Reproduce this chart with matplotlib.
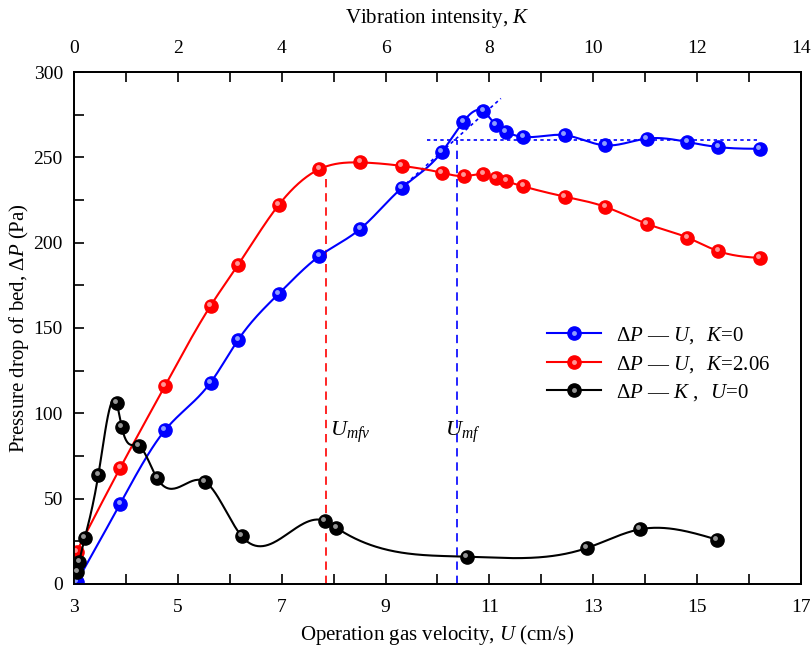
import numpy as np
import matplotlib
matplotlib.use("Agg")
import matplotlib.pyplot as plt
import matplotlib.transforms as mtransforms
from matplotlib.lines import Line2D
from matplotlib.legend_handler import HandlerTuple
from matplotlib.ticker import MultipleLocator, FixedLocator

plt.rcParams['font.family'] = ['Liberation Serif', 'Noto Sans CJK SC']
plt.rcParams['mathtext.fontset'] = 'custom'
plt.rcParams['mathtext.rm'] = 'Liberation Serif'
plt.rcParams['mathtext.it'] = 'Liberation Serif:italic'

# Pressure drop vs gas velocity, no vibration (K=0)
u_k0 = [3.05, 3.89, 4.75, 5.63, 6.16, 6.94, 7.72, 8.51, 9.31, 10.08, 10.50,
        10.88, 11.12, 11.31, 11.65, 12.45, 13.23, 14.03, 14.81, 15.41, 16.21]
p_k0 = [1, 47, 90, 118, 143, 170, 192, 208, 232, 253, 271,
        277, 269, 265, 262, 263, 257, 261, 259, 256, 255]

# Pressure drop vs gas velocity, K=2.06
u_k206 = [3.05, 3.89, 4.75, 5.63, 6.16, 6.94, 7.72, 8.51, 9.31, 10.08, 10.52,
          10.88, 11.12, 11.32, 11.65, 12.45, 13.23, 14.03, 14.81, 15.41, 16.21]
p_k206 = [19, 68, 116, 163, 187, 222, 243, 247, 245, 241, 239,
          240, 238, 236, 233, 227, 221, 211, 203, 195, 191]

# Pressure drop vs vibration intensity, U=0
k_u0 = [0.06, 0.10, 0.21, 0.47, 0.82, 0.92, 1.25, 1.60, 2.52, 3.23,
        4.83, 5.05, 7.56, 9.87, 10.89, 12.38]
p_u0 = [7, 13, 27, 64, 106, 92, 81, 62, 60, 28,
        37, 33, 16, 21, 32, 26]

# characteristic velocities
u_mfv, p_mfv = 7.85, 240
u_mf, p_mf = 10.37, 260
tangent_u = [9.3, 11.22]
tangent_p = [232, 284.5]
plateau_u = [9.8, 16.18]

u_ticks = [3, 5, 7, 9, 11, 13, 15, 17]


def natural_spline(x, y, n=500):
    x = np.asarray(x, float)
    y = np.asarray(y, float)
    m = len(x)
    h = np.diff(x)
    A = np.zeros((m, m))
    b = np.zeros(m)
    A[0, 0] = A[-1, -1] = 1
    for i in range(1, m - 1):
        A[i, i - 1] = h[i - 1]
        A[i, i] = 2 * (h[i - 1] + h[i])
        A[i, i + 1] = h[i]
        b[i] = 6 * ((y[i + 1] - y[i]) / h[i] - (y[i] - y[i - 1]) / h[i - 1])
    M = np.linalg.solve(A, b)
    xs = np.linspace(x[0], x[-1], n)
    idx = np.clip(np.searchsorted(x, xs) - 1, 0, m - 2)
    x0, x1 = x[idx], x[idx + 1]
    hh = x1 - x0
    t0, t1 = x1 - xs, xs - x0
    ys = (M[idx] * t0 ** 3 + M[idx + 1] * t1 ** 3) / (6 * hh) \
        + (y[idx] / hh - M[idx] * hh / 6) * t0 \
        + (y[idx + 1] / hh - M[idx + 1] * hh / 6) * t1
    return xs, ys


fig = plt.figure(figsize=(8.11, 6.47), dpi=100)
ax = fig.add_axes([0.0912, 0.0974, 0.8965, 0.7913])
ax2 = ax.twiny()


def ball_series(axis, x, y, color, shine):
    xs, ys = natural_spline(x, y)
    axis.plot(xs, ys, color=color, lw=1.5, zorder=3)
    axis.plot(x, y, 'o', color=color, ms=9.5, mec=color, zorder=4)
    hl = mtransforms.offset_copy(axis.transData, fig=fig, x=-1.5, y=2, units='dots')
    axis.plot(x, y, 'o', color=shine, ms=3.5, mew=0, alpha=0.85,
              transform=hl, zorder=5)
    handle = (Line2D([], [], color=color, lw=1.5, marker='o', ms=9.5, mec=color),
              Line2D([], [], ls='none', marker='o', color=shine, ms=3.5, mew=0, alpha=0.85))
    return handle


h_blue = ball_series(ax, u_k0, p_k0, '#0000ff', '#a8b8ff')
h_red = ball_series(ax, u_k206, p_k206, '#ff0000', '#ffb0b0')
h_black = ball_series(ax2, k_u0, p_u0, '#000000', '#b0b0b0')

# guide lines
ax.plot([u_mfv, u_mfv], [0, p_mfv], color='#ff0000', lw=1.2, ls=(0, (5, 3.5)), zorder=2)
ax.plot([u_mf, u_mf], [0, p_mf], color='#0000ff', lw=1.2, ls=(0, (5, 3.5)), zorder=2)
ax.plot(plateau_u, [p_mf, p_mf], color='#0000ff', lw=1.2, ls=(0, (2, 2)), zorder=2)
ax.plot(tangent_u, tangent_p, color='#0000ff', lw=1.2, ls=(0, (2, 2)), zorder=2)

ax.text(7.93, 89, r'$U_{mfv}$', fontsize=16, ha='left', va='center')
ax.text(10.14, 89, r'$U_{mf}$', fontsize=16, ha='left', va='center')

ax.set_xlim(3, 17)
ax.set_ylim(0, 300)
ax2.set_xlim(0, 14)

ax.xaxis.set_major_locator(FixedLocator(u_ticks))
ax.xaxis.set_minor_locator(MultipleLocator(1))
ax.yaxis.set_major_locator(MultipleLocator(50))
ax.yaxis.set_minor_locator(MultipleLocator(25))
ax2.xaxis.set_major_locator(MultipleLocator(2))
ax2.xaxis.set_minor_locator(MultipleLocator(1))

for a in (ax, ax2):
    a.tick_params(which='both', direction='in', length=7, width=1.2, labelsize=14)
    for s in a.spines.values():
        s.set_linewidth(1.3)
ax.tick_params(axis='x', which='both', pad=11)
ax.tick_params(axis='y', which='both', pad=8)
ax2.tick_params(axis='x', which='both', pad=11)

ax.set_xlabel(r'Operation gas velocity, $\mathit{U}$ (cm/s)', fontsize=15, labelpad=5)
ax.set_ylabel(r'Pressure drop of bed, $\Delta\mathit{P}$ (Pa)', fontsize=15, labelpad=2)
ax2.set_xlabel(r'Vibration intensity, $\mathit{K}$', fontsize=15, labelpad=12)

labels = [r'$\mathit{\Delta P}$ — $\mathit{U},\ \ \mathit{K}$=0',
          r'$\mathit{\Delta P}$ — $\mathit{U},\ \ \mathit{K}$=2.06',
          r'$\mathit{\Delta P}$ — $\mathit{K}\ ,\ \ \mathit{U}$=0']
ax2.legend([h_blue, h_red, h_black], labels, loc='upper left',
           bbox_to_anchor=(0.625, 0.542), frameon=False, fontsize=15,
           handlelength=2.6, handletextpad=0.7, labelspacing=0.36,
           handler_map={tuple: HandlerTuple(ndivide=1, pad=0)})

fig.savefig('out.png', dpi=100)
